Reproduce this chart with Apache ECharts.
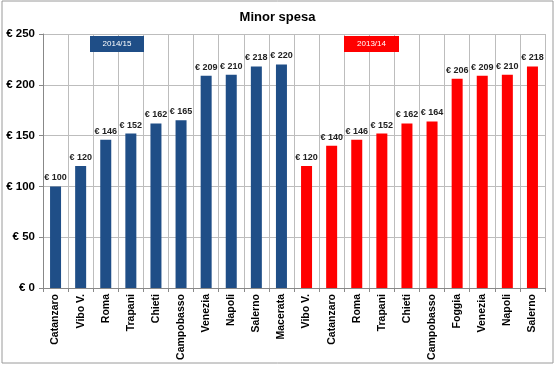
<!DOCTYPE html>
<html>
<head>
<meta charset="utf-8">
<script src="https://cdn.jsdelivr.net/npm/echarts@6/dist/echarts.min.js"></script>
<style>
html,body{margin:0;padding:0;background:#fff;}
#chart{width:555px;height:370px;}
</style>
</head>
<body>
<div id="chart"></div>
<script>
const categories2014 = ['Catanzaro','Vibo V.','Roma','Trapani','Chieti','Campobasso','Venezia','Napoli','Salerno','Macerata'];
const values2014 = [100,120,146,152,162,165,209,210,218,220];
const categories2013 = ['Vibo V.','Catanzaro','Roma','Trapani','Chieti','Campobasso','Foggia','Venezia','Napoli','Salerno'];
const values2013 = [120,140,146,152,162,164,206,209,210,218];
const yTicks = [0,50,100,150,200,250];
const title = 'Minor spesa';

const categories = categories2014.concat(categories2013);
const blank = n => new Array(n).fill('-');
const s2014 = values2014.concat(blank(categories2013.length));
const s2013 = blank(categories2014.length).concat(values2013);

const FONT = 'Liberation Sans';
const chart = echarts.init(document.getElementById('chart'));
const labelOpt = {
  show: true, position: 'top', distance: 4,
  formatter: p => '€ ' + p.value,
  fontFamily: FONT, fontWeight: 'bold', fontSize: 9, color: '#222'
};
chart.setOption({
  animation: false,
  title: {
    text: title, left: 'center', top: 6,
    textStyle: {fontFamily: FONT, fontWeight: 'bold', fontSize: 13, color: '#000'}
  },
  grid: {left: 43, right: 10, top: 34, bottom: 82},
  xAxis: {
    type: 'category', data: categories,
    axisLine: {lineStyle: {color: '#888'}},
    axisTick: {show: true, length: 4, lineStyle: {color: '#888'}},
    splitLine: {show: true, lineStyle: {color: '#bdbdbd'}},
    axisLabel: {rotate: 90, fontFamily: FONT, fontWeight: 'bold', fontSize: 10.5, color: '#000', margin: 6, interval: 0}
  },
  yAxis: {
    type: 'value', min: yTicks[0], max: yTicks[yTicks.length-1], interval: 50,
    axisLine: {show: true, lineStyle: {color: '#888'}},
    axisTick: {show: true, length: 4, lineStyle: {color: '#888'}},
    splitLine: {show: true, lineStyle: {color: '#bdbdbd'}},
    axisLabel: {formatter: v => '€ ' + v, fontFamily: FONT, fontWeight: 'bold', fontSize: 11.5, color: '#000', margin: 8}
  },
  series: [
    {type: 'bar', data: s2014, barWidth: 11, barGap: '-100%', itemStyle: {color: '#1F4E87'}, label: labelOpt},
    {type: 'bar', data: s2013, barWidth: 11, barGap: '-100%', itemStyle: {color: '#FF0000'}, label: labelOpt}
  ],
  graphic: [
    {type: 'rect', shape: {x: 2, y: 1, width: 551, height: 362}, style: {fill: 'none', stroke: '#9a9a9a', lineWidth: 1}, silent: true},
    {type: 'rect', shape: {x: 90, y: 36, width: 54, height: 16}, style: {fill: '#1F4E87'}, z: 10},
    {type: 'text', x: 117, y: 44, style: {text: '2014/15', fill: '#fff', font: '8px Liberation Sans', align: 'center', verticalAlign: 'middle'}, z: 11},
    {type: 'rect', shape: {x: 344, y: 36, width: 55, height: 16}, style: {fill: '#FF0000'}, z: 10},
    {type: 'text', x: 371.5, y: 44, style: {text: '2013/14', fill: '#fff', font: '8px Liberation Sans', align: 'center', verticalAlign: 'middle'}, z: 11}
  ]
});
</script>
</body>
</html>
